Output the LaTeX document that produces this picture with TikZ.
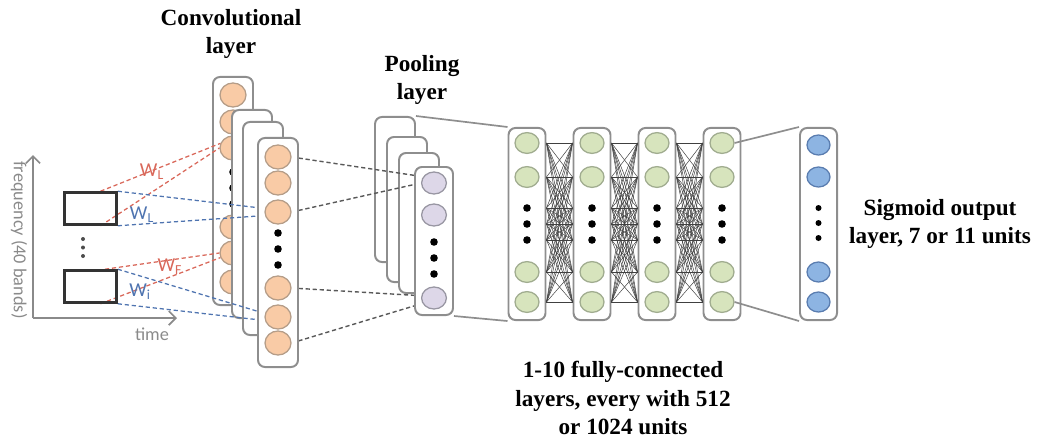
\documentclass[tikz,border=0pt]{standalone}
\usepackage{fontspec}
\setmainfont{Liberation Serif}
\newfontfamily\lblfont{Carlito}
\usepackage{xcolor}
\usetikzlibrary{arrows.meta,shapes.geometric}
\pgfdeclarelayer{bg}
\pgfdeclarelayer{mid}
\pgfsetlayers{bg,mid,main}
\definecolor{cvfill}{HTML}{F9CBA6}
\definecolor{cvedge}{HTML}{B59D88}
\definecolor{plfill}{HTML}{DDD7E8}
\definecolor{pledge}{HTML}{9896A2}
\definecolor{fcfill}{HTML}{D7E4BD}
\definecolor{fcedge}{HTML}{A0AC8F}
\definecolor{oufill}{HTML}{8DB4E2}
\definecolor{ouedge}{HTML}{5A7DB0}
\definecolor{colgray}{HTML}{8E8E8E}
\definecolor{wred}{HTML}{D9685A}
\definecolor{wblue}{HTML}{4F74B0}
\definecolor{axgray}{HTML}{8A8A8A}

\begin{document}
\begin{tikzpicture}[x=0.025cm,y=-0.025cm,
  col/.style={draw=colgray,line width=1.4pt,rounded corners=5pt,fill=white,inner sep=0pt,minimum width=1cm},
  cv/.style={ellipse,draw=cvedge,line width=0.9pt,fill=cvfill,inner sep=0pt,minimum width=0.65cm,minimum height=0.6cm},
  pl/.style={cv,draw=pledge,fill=plfill,minimum width=0.62cm,minimum height=0.55cm},
  fc/.style={cv,draw=fcedge,fill=fcfill,minimum width=0.6cm,minimum height=0.52cm},
  ou/.style={cv,draw=ouedge,fill=oufill,minimum width=0.575cm,minimum height=0.5cm},
  dot/.style={circle,fill=black,inner sep=0pt,minimum size=0.19cm},
  inbox/.style={draw=black!80,line width=1.8pt,inner sep=0pt,minimum width=1.3cm,minimum height=0.8cm},
  wr/.style={wred,line width=0.9pt,dash pattern=on 3pt off 2pt},
  wb/.style={wblue,line width=0.9pt,dash pattern=on 3pt off 2pt},
  pd/.style={black!65,line width=1pt,dash pattern=on 3pt off 2pt},
  edge/.style={colgray,line width=1.2pt},
  fcline/.style={black!75,line width=0.35pt},
  axis/.style={axgray,line width=1.2pt,-{Straight Barb[length=5pt,width=10pt]}},
  title/.style={font=\bfseries\fontsize{16.5}{20}\selectfont,align=center},
  lbl/.style={font=\lblfont\fontsize{13}{15}\selectfont,axgray},
  wlbl/.style={font=\lblfont\fontsize{14}{16}\selectfont,inner sep=0pt}]
  \useasboundingbox (0,0) rectangle (1045,441);

  % input: time-frequency patches
  \coordinate (org) at (33,318);
  \coordinate (ytop) at (33,155);
  \coordinate (xend) at (177,318);
  \draw[axis] (org) -- (ytop);
  \draw[axis] (org) -- (xend);
  \node[lbl,rotate=-90] (freq) at (19,240) {frequency (40 bands)};
  \node[lbl] (tm) at (152,334) {time};
  \node[inbox] (in1) at (90.5,208.5) {};
  \node[inbox] (in2) at (90.5,286.5) {};
  \node[dot,minimum size=0.1cm,fill=black!70] (ind1) at (83,239) {};
  \node[dot,minimum size=0.1cm,fill=black!70] (ind2) at (83,247.5) {};
  \node[dot,minimum size=0.1cm,fill=black!70] (ind3) at (83,256) {};

  % convolutional layer (feature maps, back to front)
  \begin{pgfonlayer}{bg}
  \node[col,minimum height=5.7cm] (cv1) at (233,191) {};
  \foreach \n/\y in {1/95,2/122,3/148,4/227,5/253,6/282}
    \node[cv] (a\n) at (233,\y) {};
  \foreach \n/\y in {1/172,2/188,3/204}
    \node[dot] (ad\n) at (233,\y) {};
  \node[col,minimum height=5.2cm] (cv2) at (252,214) {};
  \node[col,minimum height=5.325cm] (cv3) at (263,228.5) {};
  \end{pgfonlayer}
  \node[col,minimum height=5.725cm] (cv4) at (278,252.5) {};
  \foreach \n/\y in {1/157,2/183,3/212,4/288,5/317,6/343}
    \node[cv] (b\n) at (278,\y) {};
  \foreach \n/\y in {1/233,2/249,3/265}
    \node[dot] (bd\n) at (278,\y) {};

  % pooling layer
  \begin{pgfonlayer}{bg}
  \node[col,minimum height=3.625cm] (pl1) at (395,189.5) {};
  \node[col,minimum height=3.625cm] (pl2) at (407,209.5) {};
  \node[col,minimum height=3.5cm] (pl3) at (419,223) {};
  \end{pgfonlayer}
  \node[col,minimum width=0.95cm,minimum height=3.7cm] (pl4) at (434,241) {};
  \foreach \n/\y in {1/183,2/215,3/298}
    \node[pl] (q\n) at (434,\y) {};
  \foreach \n/\y in {1/242,2/258,3/274}
    \node[dot] (qd\n) at (434,\y) {};

  % fully-connected layers
  \foreach \i/\x in {1/527,2/592,3/657,4/722}{
    \node[col,minimum width=0.925cm,minimum height=4.8cm] (fc\i) at (\x,224) {};
    \foreach \j/\y in {1/143,2/177,6/272,7/302}
      \node[fc] (h\i r\j) at (\x,\y) {};
    \foreach \j/\y in {3/208,4/224,5/240}
      \node[dot] (h\i r\j) at (\x,\y) {};
  }
  \foreach \i/\k in {1/2,2/3,3/4}
    \foreach \j in {1,...,7}
      \foreach \l in {1,...,7}
        \draw[fcline] (fc\i.east |- h\i r\j) -- (fc\k.west |- h\k r\l);

  % sigmoid output layer
  \node[col,minimum width=0.925cm,minimum height=4.8cm] (out) at (818.5,224) {};
  \foreach \j/\y in {1/145,2/177,6/272,7/302}
    \node[ou] (o\j) at (818.5,\y) {};
  \foreach \j/\y in {3/208,4/223,5/238}
    \node[dot,minimum size=0.15cm] (o\j) at (818.5,\y) {};

  % connections
  \begin{pgfonlayer}{mid}
  \draw[wr] (in1.60) -- (a3.160);
  \draw[wr] (in1.-60) -- (a3.west);
  \draw[wr] (in2.50) -- (a5.west);
  \draw[wr] (in2.-60) -- (a5.200);
  \draw[wb] (in1.north east) -- (b3.165);
  \draw[wb] (in1.south east) -- (b3.195);
  \draw[wb] (in2.north east) -- (b5.165);
  \draw[wb] (in2.south east) -- (b5.195);
  \draw[pd] (b1.east) -- (q1.150);
  \draw[pd] (b3.east) -- (q1.west);
  \draw[pd] (b4.east) -- (q3.170);
  \draw[pd] (b6.east) -- (q3.205);
  \draw[edge] (pl1.north east) -- (fc1.north west);
  \draw[edge] (pl4.south east) -- (fc1.south west);
  \end{pgfonlayer}
  \draw[edge] (h4r1.east) -- (out.north west);
  \draw[edge] (h4r7.east) -- (out.south west);

  % weight labels
  \node[wlbl,wred] (w1) at (152,172) {W\textsubscript{L}};
  \node[wlbl,wblue] (w2) at (142,215) {W\textsubscript{L}};
  \node[wlbl,wred] (w3) at (170,267) {W\textsubscript{F}};
  \node[wlbl,wblue] (w4) at (140,292) {W\textsubscript{i}};

  % layer captions
  \node[title] (convtxt) at (231,34) {Convolutional\\layer};
  \node[title] (pooltxt) at (422,80) {Pooling\\layer};
  \node[title] (fctxt) at (623,398) {1-10 fully-connected\\layers, every with 512\\or 1024 units};
  \node[title] (outtxt) at (940,224) {Sigmoid output\\layer, 7 or 11 units};
\end{tikzpicture}
\end{document}
